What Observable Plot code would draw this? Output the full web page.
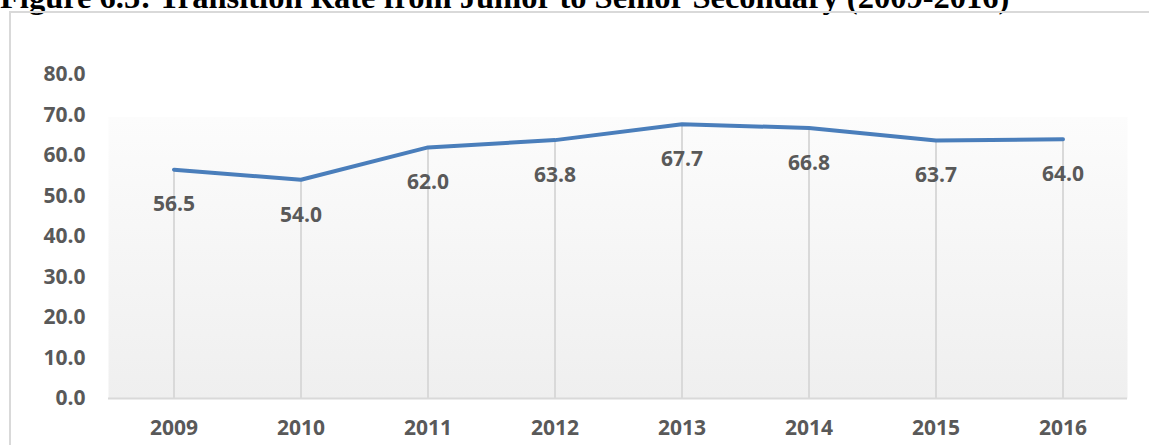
<!DOCTYPE html>
<html>
<head>
<meta charset="utf-8">
<script src="https://cdn.jsdelivr.net/npm/d3@7"></script>
<script src="https://cdn.jsdelivr.net/npm/@observablehq/plot@0.6"></script>
<style>
  html, body { margin: 0; padding: 0; background: #fff; overflow: hidden; }
  #wrap { position: relative; width: 1149px; height: 445px; overflow: hidden; }
  #title { position: absolute; left: 0; top: -19px; white-space: nowrap;
    font-family: "Liberation Serif", "Times New Roman", serif; font-weight: bold; font-size: 32.5px; line-height: 32px; color: #000; }
  #box { position: absolute; left: 9px; top: 11px; width: 1200px; height: 500px; border: 2px solid #d9d9d9; box-sizing: border-box; }
  #chart { position: absolute; left: 0; top: 0; }
</style>
</head>
<body>
<div id="wrap">
  <div id="title">Figure 6.5: Transition Rate from Junior to Senior Secondary (2009-2016)</div>
  <div id="box"></div>
  <div id="chart"></div>
</div>
<script>
const years = ["2009", "2010", "2011", "2012", "2013", "2014", "2015", "2016"];
const rates = [56.5, 54.0, 62.0, 63.8, 67.7, 66.8, 63.7, 64.0];
const yTicks = [0, 10, 20, 30, 40, 50, 60, 70, 80];

const data = years.map((year, i) => ({year, rate: rates[i]}));
const textColor = "#595959";
const font = "'Open Sans', Lato, sans-serif";

const plot = Plot.plot({
  width: 1149,
  height: 445,
  marginLeft: 108,
  marginRight: 22,
  marginTop: 74,
  marginBottom: 47,
  style: {fontFamily: font, fontWeight: "bold", fontSize: "21px", color: textColor, background: "transparent", overflow: "visible"},
  x: {domain: years, type: "band", padding: 0, label: null},
  y: {domain: [0, 80], label: null},
  marks: [
    Plot.frame({fill: "url(#bgGrad)", stroke: null}),
    Plot.ruleX(data, {x: "year", y1: 0, y2: "rate", stroke: "#d9d9d9", strokeWidth: 2}),
    Plot.ruleY([0], {stroke: "#d9d9d9", strokeWidth: 2}),
    Plot.line(data, {x: "year", y: "rate", stroke: "#4a7ebb", strokeWidth: 4, strokeLinejoin: "round", strokeLinecap: "round"}),
    Plot.text(data, {x: "year", y: "rate", text: d => d.rate.toFixed(1), dy: 35, fill: textColor, fontSize: 21, fontWeight: "bold"}),
    Plot.axisY({ticks: yTicks, tickFormat: d => d.toFixed(1), tickSize: 0, tickPadding: 23, fontSize: 21, fill: textColor}),
    Plot.axisX({tickSize: 0, tickPadding: 22, fontSize: 21, fill: textColor})
  ]
});

const svg = d3.select(plot);
const defs = svg.insert("defs", ":first-child");
const g = defs.append("linearGradient").attr("id", "bgGrad").attr("x1", 0).attr("y1", 0).attr("x2", 0).attr("y2", 1);
g.append("stop").attr("offset", 0).attr("stop-color", "#ffffff");
g.append("stop").attr("offset", 0.13).attr("stop-color", "#ffffff");
g.append("stop").attr("offset", 0.13).attr("stop-color", "#fcfcfc");
g.append("stop").attr("offset", 1).attr("stop-color", "#efefef");

document.getElementById("chart").appendChild(plot);
</script>
</body>
</html>
